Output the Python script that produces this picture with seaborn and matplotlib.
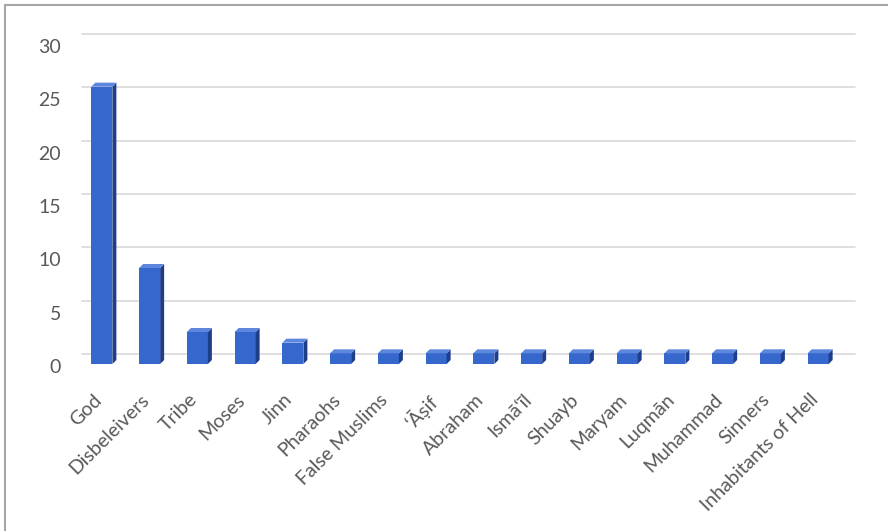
import matplotlib
matplotlib.use("Agg")
import matplotlib.pyplot as plt
import matplotlib.transforms as mtransforms
from matplotlib.patches import Polygon
from matplotlib.lines import Line2D
import seaborn as sns
import pandas as pd

# Counts per addressee
categories = ["God", "Disbeleivers", "Tribe", "Moses", "Jinn", "Pharaohs",
              "False Muslims", "\u2018\u0100\u1e63if", "Abraham", "Ism\u0101\u2018\u012bl",
              "Shuayb", "Maryam", "Luqm\u0101n", "Muhammad", "Sinners",
              "Inhabitants of Hell"]
counts = [26, 9, 3, 3, 2, 1, 1, 1, 1, 1, 1, 1, 1, 1, 1, 1]
y_ticks = [0, 5, 10, 15, 20, 25, 30]

sns.set_theme(style="white")
plt.rcParams["font.family"] = ["Lato", "DejaVu Sans"]

W, H = 888, 531
fig = plt.figure(figsize=(W / 100, H / 100), dpi=100)
ax_left, ax_right = 78, 842
ax_bottom, ax_top = 364, 44
ax = fig.add_axes([ax_left / W, 1 - ax_bottom / H,
                   (ax_right - ax_left) / W, (ax_bottom - ax_top) / H])

df = pd.DataFrame({"category": categories, "count": counts})
front = "#3567cc"
side = "#1f3d8a"
top = "#5d86dd"
bar_w = 0.44
sns.barplot(data=df, x="category", y="count", color=front, width=bar_w,
            saturation=1, ax=ax, zorder=3, edgecolor="none")

ax.set_xlim(-0.5, len(categories) - 0.5)
ax.set_ylim(0, 30)

# depth of the column faces, expressed in data units
px_x = (len(categories)) / (ax_right - ax_left)
px_y = 30 / (ax_bottom - ax_top)
dx, dy = 4 * px_x, 4 * px_y
for i, v in enumerate(counts):
    x0, x1 = i - bar_w / 2, i + bar_w / 2
    ax.add_patch(Polygon([(x1, 0), (x1 + dx, dy), (x1 + dx, v + dy), (x1, v)],
                         closed=True, facecolor=side, edgecolor="none",
                         zorder=3))
    ax.add_patch(Polygon([(x0, v), (x0 + dx, v + dy), (x1 + dx, v + dy), (x1, v)],
                         closed=True, facecolor=top, edgecolor="none",
                         zorder=3))

# back-wall gridlines, set back from the columns
shift = mtransforms.ScaledTranslation(6 / 100, 10 / 100, fig.dpi_scale_trans)
for t in y_ticks:
    ax.plot([-0.55, len(categories) - 0.35], [t, t], color="#d9d9d9", lw=1.2,
            transform=ax.transData + shift, clip_on=False, zorder=1)

ax.set_yticks(y_ticks)
ax.set_yticklabels([str(t) for t in y_ticks])
ax.tick_params(axis="y", length=0, pad=10, labelsize=14, labelcolor="#595959")
ax.tick_params(axis="x", length=0, pad=0, labelsize=14, labelcolor="#595959")
ax.set_xticks(range(len(categories)))
ax.set_xticklabels(categories, rotation=45, ha="right", va="top",
                   rotation_mode="anchor")
ax.set_xlabel("")
ax.set_ylabel("")
for s in ax.spines.values():
    s.set_visible(False)
ax.patch.set_alpha(0)
# move the y labels out to the left
for lab in ax.get_yticklabels():
    lab.set_transform(lab.get_transform() +
                      mtransforms.ScaledTranslation(-3 / 100, -2 / 100, fig.dpi_scale_trans))
# drop the category labels a little below the floor
for lab in ax.get_xticklabels():
    lab.set_transform(lab.get_transform() +
                      mtransforms.ScaledTranslation(-9 / 100, -27 / 100, fig.dpi_scale_trans))

# chart frame
fig.add_artist(Line2D([5 / W, 5 / W], [0, 1 - 5 / H], color="#a6a6a6", lw=1.5))
fig.add_artist(Line2D([5 / W, 1], [1 - 5 / H, 1 - 5 / H], color="#a6a6a6", lw=1.5))

fig.savefig("out.png", dpi=100, facecolor="white")
